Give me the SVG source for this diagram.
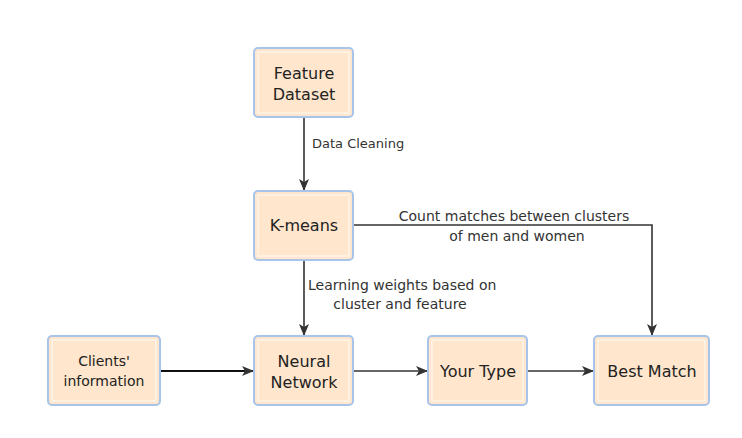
<svg xmlns="http://www.w3.org/2000/svg" width="742" height="438" viewBox="0 0 742 438">
<style>
.box{fill:#ffe6cc;stroke:#a9c4eb;stroke-width:2}
.inner{fill:none;stroke:#fff1e2;stroke-width:2}
.nt{font-family:"DejaVu Sans",sans-serif;font-size:16px;fill:#222;text-anchor:middle}
.lt{font-family:"DejaVu Sans",sans-serif;font-size:14px;fill:#333}
.ln{fill:none;stroke:#333;stroke-width:1.6}
</style>
<defs>
<marker id="ar" viewBox="0 0 12 10" refX="11" refY="5" markerWidth="12" markerHeight="10" markerUnits="userSpaceOnUse" orient="auto">
<path d="M0,0 L12,5 L0,10 L3,5 Z" fill="#333"/>
</marker>
</defs>
<rect width="742" height="438" fill="#fff"/>
<g id="connectors">
<path class="ln" d="M304,117 V190" marker-end="url(#ar)"/>
<path class="ln" d="M304,260 V335" marker-end="url(#ar)"/>
<path class="ln" d="M353,225 H652 V335" marker-end="url(#ar)"/>
<path class="ln" d="M160,371 H253" style="stroke:#111;stroke-width:2" marker-end="url(#ar)"/>
<path class="ln" d="M353,371 H427" marker-end="url(#ar)"/>
<path class="ln" d="M527,371 H593" marker-end="url(#ar)"/>
<text class="lt" x="312" y="148" style="font-size:13px">Data Cleaning</text>
<text class="lt" x="514" y="221" text-anchor="middle">Count matches between clusters</text>
<text class="lt" x="517" y="241" text-anchor="middle">of men and women</text>
<text class="lt" x="308" y="290">Learning weights based on</text>
<text class="lt" x="400" y="309" text-anchor="middle">cluster and feature</text>
</g>
<g id="feature-dataset">
<rect class="box" x="254" y="48" width="99" height="69" rx="4"/>
<rect class="inner" x="258" y="52" width="91" height="61"/>
<text class="nt" x="304" y="79">Feature</text>
<text class="nt" x="304" y="100">Dataset</text>
</g>
<g id="k-means">
<rect class="box" x="254" y="191" width="99" height="69" rx="4"/>
<rect class="inner" x="258" y="195" width="91" height="61"/>
<text class="nt" x="304" y="231">K-means</text>
</g>
<g id="clients-information">
<rect class="box" x="48" y="336" width="112" height="69" rx="4"/>
<rect class="inner" x="52" y="340" width="104" height="61"/>
<text class="nt" x="104" y="366" style="font-size:14px">Clients'</text>
<text class="nt" x="104" y="386" style="font-size:14px">information</text>
</g>
<g id="neural-network">
<rect class="box" x="254" y="336" width="99" height="69" rx="4"/>
<rect class="inner" x="258" y="340" width="91" height="61"/>
<text class="nt" x="304" y="367">Neural</text>
<text class="nt" x="304" y="388">Network</text>
</g>
<g id="your-type">
<rect class="box" x="428" y="336" width="99" height="69" rx="4"/>
<rect class="inner" x="432" y="340" width="91" height="61"/>
<text class="nt" x="478" y="377">Your Type</text>
</g>
<g id="best-match">
<rect class="box" x="594" y="336" width="115" height="69" rx="4"/>
<rect class="inner" x="598" y="340" width="107" height="61"/>
<text class="nt" x="652" y="377">Best Match</text>
</g>
</svg>
